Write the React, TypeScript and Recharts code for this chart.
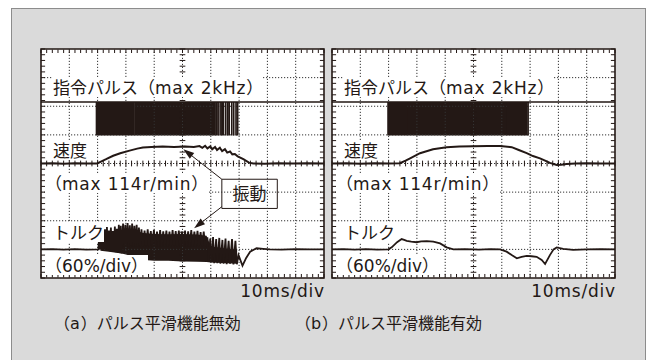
import {
  Area,
  CartesianGrid,
  ComposedChart,
  Line,
  ReferenceArea,
  ReferenceLine,
  XAxis,
  YAxis,
} from "recharts";

// Scope screen: time 0-100 ms (10 ms/div), vertical 0-8 div.
const PULSE_HI = 6.15;
const PULSE_LO = 4.98;

// (a) pulse smoothing off
const pulseLinesA = [
  19.6, 20.1, 20.5, 21.0, 21.4, 21.9, 22.3, 22.7, 23.2, 23.6, 24.0, 24.5, 24.9,
  25.3, 25.8, 26.2, 26.6, 27.1, 27.5, 27.9, 28.4, 28.8, 29.2, 29.7, 30.1, 30.5,
  31.0, 31.4, 31.8, 32.3, 32.7, 62.0, 62.6, 63.3, 63.9, 64.4, 65.2, 65.9, 66.5,
  67.4, 68.1, 68.9, 69.5,
];
const pulseBlockA: [number, number] = [32.9, 61.8];

const speedA: [number, number][] = [
  [0, 4.0], [4, 4.01], [8, 3.99], [12, 4.01], [16, 4.0], [19.8, 4.0],
  [21, 4.06], [23, 4.15], [25.5, 4.27], [28, 4.36], [31.3, 4.45], [34, 4.52],
  [36, 4.56], [39, 4.58], [43, 4.59], [47, 4.58], [51, 4.59], [54, 4.58],
  [56, 4.61], [57, 4.55], [58, 4.62], [58.8, 4.53], [59.8, 4.6], [60.5, 4.5],
  [61.5, 4.58], [62.2, 4.47], [63.2, 4.55], [64, 4.43], [65, 4.5], [65.8, 4.38],
  [66.8, 4.42], [67.6, 4.32], [68.5, 4.33], [69.5, 4.25], [71.5, 4.15],
  [73.5, 4.03], [75, 4.0], [79, 3.99], [84, 4.01], [89, 4.0], [94, 4.01],
  [100, 4.0],
];

const torqueA: [number, number][] = [
  [0, 1.0], [4, 1.01], [8, 0.99], [12, 1.01], [16, 0.99], [20.3, 1.0],
  [20.6, 1.55], [20.9, 1.0], [21.2, 1.68], [21.5, 0.98], [21.9, 1.74],
  [22.2, 1.0], [22.6, 1.7], [22.9, 0.95], [23.3, 1.78], [23.6, 0.98],
  [24.0, 1.66], [24.3, 0.94], [24.7, 1.76], [25.0, 0.92], [25.4, 1.64],
  [25.7, 0.93], [26.1, 1.8], [26.4, 0.9], [26.8, 1.72], [27.1, 0.88],
  [27.5, 1.86], [27.8, 0.87], [28.2, 1.82], [28.5, 0.86],
  [29.0, 1.9], [29.4, 1.1], [29.8, 1.86], [30.2, 1.1], [30.6, 1.92], [31.0, 1.1],
  [31.4, 1.84], [31.8, 1.1], [32.2, 1.9], [32.6, 1.1], [33.0, 1.82], [33.4, 1.1],
  [33.8, 1.86], [34.2, 1.1], [34.6, 1.76], [35.0, 1.1], [35.5, 1.7], [36.0, 1.1],
  [36.6, 1.66], [37.1, 1.1], [37.7, 1.7], [38.2, 1.1], [38.8, 1.64], [39.3, 1.1],
  [39.9, 1.68], [40.4, 1.1], [41.0, 1.62], [41.5, 1.1], [42.1, 1.67], [42.6, 1.1],
  [43.2, 1.63], [43.7, 1.1], [44.3, 1.66], [44.8, 1.1], [45.4, 1.62], [45.9, 1.1],
  [46.5, 1.67], [47.0, 1.1], [47.6, 1.64], [48.1, 1.1], [48.7, 1.66], [49.2, 1.1],
  [49.8, 1.62], [50.3, 1.1], [50.9, 1.66], [51.4, 1.1], [52.0, 1.63], [52.5, 1.1],
  [53.1, 1.67], [53.6, 1.1], [54.2, 1.62], [54.7, 1.1], [55.3, 1.65], [55.8, 1.1],
  [56.4, 1.6], [56.9, 1.1], [57.5, 1.62], [58.0, 1.1],
  [58.8, 1.42], [59.2, 0.56], [59.8, 1.38], [60.2, 0.55], [60.8, 1.43],
  [61.2, 0.52], [61.9, 1.36], [62.3, 0.52], [63.0, 1.4], [63.4, 0.5],
  [64.1, 1.33], [64.5, 0.5], [65.2, 1.38], [65.6, 0.48], [66.3, 1.3],
  [66.8, 0.5], [67.5, 1.36], [68.0, 0.47], [68.7, 1.3], [69.2, 0.48],
  [69.8, 0.8], [71.2, 0.43], [72.5, 0.7], [73.9, 0.92], [76.2, 1.04],
  [78.5, 1.02], [80.9, 1.0], [85, 0.99], [90, 1.01], [95, 1.0], [100, 1.0],
];

// dense part of the vibration: [t, low, high]
const torqueBandA: [number, number, number][] = [
  [21, 0.95, 1.25], [24, 0.92, 1.35], [28.5, 0.86, 1.6], [30, 0.82, 1.7],
  [33.5, 0.72, 1.7], [35.5, 0.64, 1.58], [40, 0.6, 1.54], [45, 0.6, 1.53],
  [50, 0.58, 1.54], [55, 0.57, 1.52], [58.5, 0.56, 1.48], [60, 0.54, 1.1],
  [64, 0.52, 1.05], [69.3, 0.5, 0.98],
];

// (b) pulse smoothing on
const pulseLinesB = [
  19.8, 20.3, 20.7, 21.2, 21.6, 22.0, 22.5, 22.9, 23.3, 23.8, 24.2, 24.6, 25.1,
  25.5, 25.9, 26.3, 62.0, 62.4, 62.9, 63.3, 63.7, 64.2, 64.6, 65.0, 65.5, 65.9,
  66.4, 66.8, 67.3, 67.7, 68.2, 68.7, 69.3,
];
const pulseBlockB: [number, number] = [26.4, 61.9];

const speedB: [number, number][] = [
  [0, 4.0], [5, 4.01], [10, 3.99], [15, 4.01], [20, 4.0], [24, 4.01],
  [26, 4.1], [27.6, 4.18], [31.1, 4.36], [35.7, 4.5], [40.5, 4.57], [45, 4.59],
  [50, 4.6], [55, 4.61], [59.4, 4.61], [63.5, 4.57], [66, 4.47], [68.8, 4.36],
  [71, 4.26], [73.5, 4.18], [75.5, 4.09], [77, 4.02], [79.4, 3.95], [81, 3.96],
  [82.9, 3.98], [86, 4.0], [90, 4.01], [95, 4.0], [100, 4.0],
];

const torqueB: [number, number][] = [
  [0, 1.0], [4, 1.01], [8, 0.99], [12, 1.01], [16, 0.99], [19.9, 1.0],
  [21.1, 1.07], [23, 1.25], [24.6, 1.36], [25.5, 1.33], [26.4, 1.3], [28, 1.27],
  [29.9, 1.25], [31.5, 1.28], [33.5, 1.29], [35.8, 1.27], [38.2, 1.21],
  [40.5, 1.07], [42.9, 1.0], [47, 1.01], [52, 0.99], [56, 1.01], [59.4, 1.0],
  [61.7, 0.92], [63.5, 0.8], [65.3, 0.69], [67, 0.74], [68.8, 0.77],
  [70.5, 0.76], [72.3, 0.74], [74.1, 0.63], [75.3, 0.49], [77, 0.8],
  [78.3, 1.0], [79.4, 1.07], [81.7, 1.02], [85.2, 0.98], [90, 1.0],
  [95, 1.01], [100, 1.0],
];

const labels = [
  "指令パルス（max 2kHz）",
  "速度",
  "（max 114r/min）",
  "トルク",
  "（60%/div）",
];
const timebase = "10ms/div";
const captions = ["（a）パルス平滑機能無効", "（b）パルス平滑機能有効"];
const note = "振動";

const majorT = [10, 20, 30, 40, 50, 60, 70, 80, 90];
const majorV = [1, 2, 3, 4, 5, 6, 7];
const minorT = Array.from({ length: 51 }, (_, i) => i * 2);
const minorV = Array.from({ length: 41 }, (_, i) => Math.round(i * 2) / 10);

const INK = "#231815";
const FONT = '"Noto Sans CJK JP", "Noto Sans", sans-serif';
const LATIN = '"DejaVu Sans", "Noto Sans CJK JP", sans-serif';

function Arrow(props: any) {
  const { x1, y1, x2, y2 } = props;
  const a = Math.atan2(y2 - y1, x2 - x1);
  const L = 11;
  const W = 3.6;
  const bx = x2 - L * Math.cos(a);
  const by = y2 - L * Math.sin(a);
  const pts = `${x2},${y2} ${bx + W * Math.sin(a)},${by - W * Math.cos(a)} ${bx - W * Math.sin(a)},${by + W * Math.cos(a)}`;
  return (
    <g>
      <line x1={x1} y1={y1} x2={bx} y2={by} stroke={INK} strokeWidth={1} />
      <polygon points={pts} fill={INK} />
    </g>
  );
}

interface PanelProps {
  left: number;
  pulseLines: number[];
  pulseBlock: [number, number];
  speed: [number, number][];
  torque: [number, number][];
  band?: [number, number, number][];
  annotate?: boolean;
}

function ScopePanel({ left, pulseLines, pulseBlock, speed, torque, band, annotate }: PanelProps) {
  const pulseData: { t: number; v: number }[] = [{ t: 0, v: PULSE_HI }];
  pulseLines.forEach((t) => {
    pulseData.push({ t, v: PULSE_HI }, { t, v: PULSE_LO }, { t, v: PULSE_HI });
  });
  pulseData.push({ t: 100, v: PULSE_HI });
  const blockData = pulseBlock.map((t) => ({ t, r: [PULSE_LO, PULSE_HI] }));
  const speedData = speed.map(([t, v]) => ({ t, v }));
  const torqueData = torque.map(([t, v]) => ({ t, v }));
  const bandData = (band ?? []).map(([t, lo, hi]) => ({ t, r: [lo, hi] }));

  const ax = { xAxisId: "b", yAxisId: "l" };
  const tk = { stroke: INK, strokeWidth: 1, ifOverflow: "visible" as const };
  const dot = { stroke: "#333", strokeWidth: 1, strokeDasharray: "1.2 1.8" };
  // graticule tick marks: edges point inward, centre lines cross
  const edgeT = 1.45; // ~4 px in ms
  const edgeV = 0.14; // ~4 px in div
  const e = 0.02;

  return (
    <div style={{ position: "absolute", left, top: 44 }}>
      <ComposedChart width={293} height={239} margin={{ top: 5, right: 5, bottom: 5, left: 5 }}>
        <XAxis xAxisId="b" type="number" dataKey="t" domain={[0, 100]} hide />
        <YAxis yAxisId="l" type="number" domain={[0, 8]} hide />
        <CartesianGrid xAxisId="b" yAxisId="l" fill="#fff" fillOpacity={1} horizontal={false} vertical={false} />
        {majorT.map((t) => (
          <ReferenceLine key={"gx" + t} {...ax} x={t} {...dot} />
        ))}
        {majorV.map((v) => (
          <ReferenceLine key={"gy" + v} {...ax} y={v} {...dot} />
        ))}
        {minorT.map((t) => (
          <ReferenceLine key={"h" + t} {...ax} segment={[{ x: t, y: 3.9 }, { x: t, y: 4.1 }]} {...tk} />
        ))}
        {minorV.map((v) => (
          <ReferenceLine key={"v" + v} {...ax} segment={[{ x: 49, y: v }, { x: 51, y: v }]} {...tk} />
        ))}
        {minorT.map((t) => (
          <ReferenceLine key={"eb" + t} {...ax} segment={[{ x: t, y: e }, { x: t, y: edgeV }]} {...tk} />
        ))}
        {minorT.map((t) => (
          <ReferenceLine key={"et" + t} {...ax} segment={[{ x: t, y: 8 - edgeV }, { x: t, y: 8 - e }]} {...tk} />
        ))}
        {minorV.map((v) => (
          <ReferenceLine key={"el" + v} {...ax} segment={[{ x: e, y: v }, { x: edgeT, y: v }]} {...tk} />
        ))}
        {minorV.map((v) => (
          <ReferenceLine key={"er" + v} {...ax} segment={[{ x: 100 - edgeT, y: v }, { x: 100 - e, y: v }]} {...tk} />
        ))}
        <Area {...ax} data={blockData} dataKey="r" type="linear" stroke="none" fill={INK} fillOpacity={1} isAnimationActive={false} />
        <Line {...ax} data={pulseData} dataKey="v" type="linear" dot={false} stroke={INK} strokeWidth={1.6} isAnimationActive={false} />
        <Line {...ax} data={speedData} dataKey="v" type="linear" dot={false} stroke={INK} strokeWidth={2} isAnimationActive={false} />
        {band && (
          <Area {...ax} data={bandData} dataKey="r" type="linear" stroke="none" fill={INK} fillOpacity={1} isAnimationActive={false} />
        )}
        <Line {...ax} data={torqueData} dataKey="v" type="linear" dot={false} stroke={INK} strokeWidth={1.8} isAnimationActive={false} />
        <ReferenceArea {...ax} x1={0} x2={100} y1={0} y2={8} fill="#fff" fillOpacity={0} stroke={INK} strokeWidth={1.6} />
        {annotate && (
          <ReferenceArea
            {...ax}
            x1={63.9}
            x2={83.5}
            y1={2.43}
            y2={3.45}
            fill="#fff"
            fillOpacity={1}
            stroke={INK}
            strokeWidth={1}
            label={{ value: note, position: "center", fill: INK, fontSize: 17, fontFamily: FONT }}
          />
        )}
        {annotate && (
          <ReferenceLine {...ax} segment={[{ x: 63.9, y: 3.45 }, { x: 50.3, y: 4.5 }]} shape={Arrow} />
        )}
        {annotate && (
          <ReferenceLine {...ax} segment={[{ x: 63.9, y: 2.49 }, { x: 54.1, y: 1.74 }]} shape={Arrow} />
        )}
      </ComposedChart>
    </div>
  );
}

// Latin runs use a wider face, like the original typesetting
function Mixed({ text, spacing = 0.8 }: { text: string; spacing?: number }) {
  const runs = text.match(/[\x20-\x7e]+|[^\x20-\x7e]+/g) ?? [];
  return (
    <>
      {runs.map((r, i) =>
        /[\x20-\x7e]/.test(r[0]) ? (
          <span key={i} style={{ fontFamily: LATIN, letterSpacing: spacing }}>
            {r}
          </span>
        ) : (
          <span key={i}>{r}</span>
        ),
      )}
    </>
  );
}

const labelTops = [77, 140, 173, 222, 255];
const labelShift = [0, 0, -8, 0, -8];
const labelSpacing = [0.8, 0, 0.8, 0, 0];

function PanelText({ left, right }: { left: number; right: number }) {
  return (
    <>
      {labels.map((s, i) => (
        <span
          key={s}
          style={{
            position: "absolute",
            left: left + labelShift[i],
            top: labelTops[i],
            height: 20,
            lineHeight: "20px",
            fontSize: 17,
            background: "#fff",
            color: INK,
            whiteSpace: "nowrap",
          }}
        >
          <Mixed text={s} spacing={labelSpacing[i]} />
        </span>
      ))}
      <span
        style={{
          position: "absolute",
          left: right - 120,
          width: 120,
          top: 281,
          lineHeight: "20px",
          fontSize: 17,
          textAlign: "right",
          color: INK,
          fontFamily: LATIN,
          letterSpacing: 0.8,
        }}
      >
        {timebase}
      </span>
    </>
  );
}

export default function App() {
  return (
    <div
      style={{
        position: "absolute",
        left: 0,
        top: 0,
        width: 648,
        height: 360,
        background: "#fff",
        overflow: "hidden",
        fontFamily: FONT,
      }}
    >
      <div
        style={{
          position: "absolute",
          left: 11,
          top: 8,
          width: 633,
          height: 360,
          background: "#dadada",
          border: "1px solid #8c8c8c",
        }}
      />
      <ScopePanel left={36} pulseLines={pulseLinesA} pulseBlock={pulseBlockA} speed={speedA} torque={torqueA} band={torqueBandA} annotate />
      <ScopePanel left={327} pulseLines={pulseLinesB} pulseBlock={pulseBlockB} speed={speedB} torque={torqueB} />
      <PanelText left={53} right={325} />
      <PanelText left={344} right={616} />
      {captions.map((c, i) => (
        <span
          key={c}
          style={{
            position: "absolute",
            left: i === 0 ? 54 : 295,
            top: 311,
            lineHeight: "22px",
            fontSize: 16,
            color: INK,
            whiteSpace: "nowrap",
          }}
        >
          <Mixed text={c} />
        </span>
      ))}
    </div>
  );
}
